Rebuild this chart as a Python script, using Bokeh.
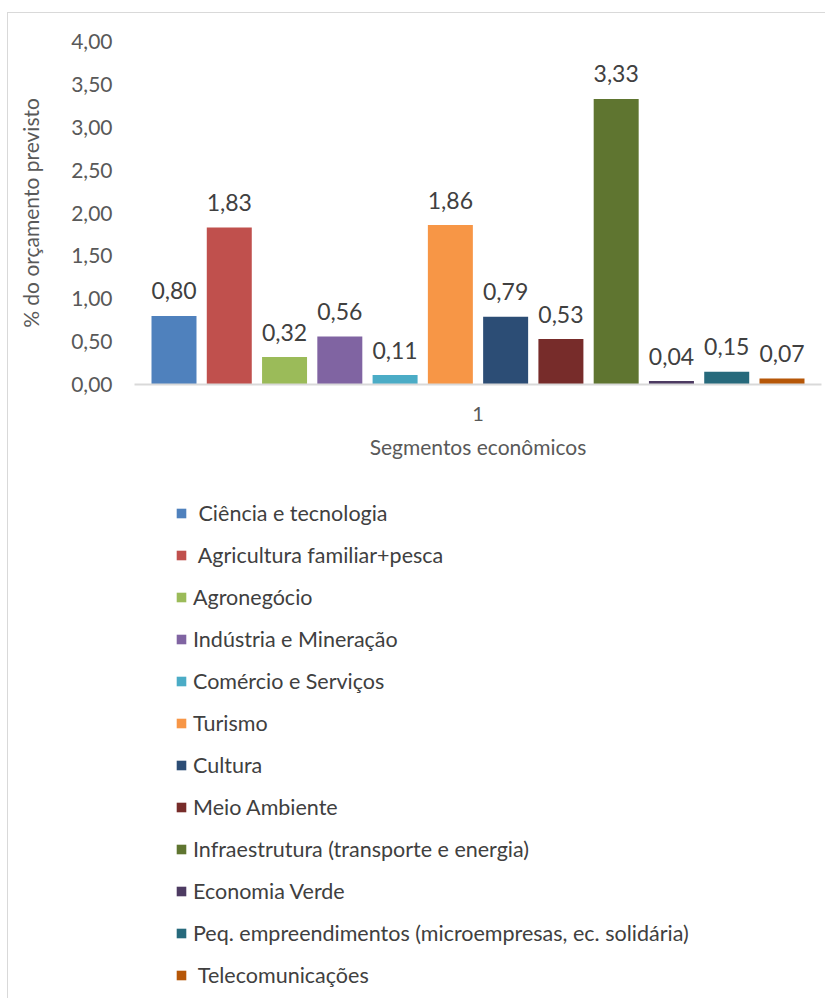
from bokeh.plotting import figure
from bokeh.layouts import column
from bokeh.models import ColumnDataSource, Range1d, FixedTicker, Legend, LegendItem
from bokeh.core.properties import value
from bokeh.embed import file_html
from bokeh.resources import INLINE

# ---- data ----
segments = [
    " Ciência e tecnologia",
    " Agricultura familiar+pesca",
    "Agronegócio",
    "Indústria e Mineração",
    "Comércio e Serviços",
    "Turismo",
    "Cultura",
    "Meio Ambiente",
    "Infraestrutura (transporte e energia)",
    "Economia Verde",
    "Peq. empreendimentos (microempresas, ec. solidária)",
    " Telecomunicações",
]
values = [0.80, 1.83, 0.32, 0.56, 0.11, 1.86, 0.79, 0.53, 3.33, 0.04, 0.15, 0.07]
colors = ["#4F81BD", "#C0504D", "#9BBB59", "#8064A2", "#4BACC6", "#F79646",
          "#2C4D75", "#772C2A", "#5F7530", "#4D3B62", "#276A7C", "#B65708"]
y_ticks = [0.0, 0.5, 1.0, 1.5, 2.0, 2.5, 3.0, 3.5, 4.0]
y_tick_labels = ["0,00", "0,50", "1,00", "1,50", "2,00", "2,50", "3,00", "3,50", "4,00"]
x_tick_label = "1"
x_title = "Segmentos econômicos"
y_title = "% do orçamento previsto"

FONT = "Lato"

src = ColumnDataSource(dict(
    x=list(range(len(values))),
    top=values,
    color=colors,
    label=[f"{v:.2f}".replace(".", ",") for v in values],
))

# ---- chart ----
p = figure(width=817, height=457,
           x_range=Range1d(-0.7147, 11.7147), y_range=Range1d(0, 4),
           output_backend="svg", toolbar_location=None,
           min_border_left=126, min_border_right=4,
           min_border_top=28, min_border_bottom=86)
p.outline_line_color = None
p.xgrid.grid_line_color = None
p.ygrid.grid_line_color = None

bars = p.vbar(x="x", top="top", width=0.814, color="color", line_color=None, source=src)
p.text(x="x", y="top", text="label", source=src,
       text_align="center", text_baseline="alphabetic", y_offset=-25,
       text_font=value(FONT), text_font_size="23px", text_color="#404040")

ya = p.yaxis[0]
ya.ticker = FixedTicker(ticks=y_ticks)
ya.major_label_overrides = {t: l for t, l in zip(y_ticks, y_tick_labels)}
ya.axis_line_color = None
ya.major_tick_line_color = None
ya.minor_tick_line_color = None
ya.major_label_standoff = 16
ya.major_label_text_font = FONT
ya.major_label_text_font_size = "21px"
ya.major_label_text_color = "#595959"
ya.axis_label = y_title
ya.axis_label_standoff = 25
ya.axis_label_text_font = FONT
ya.axis_label_text_font_size = "21px"
ya.axis_label_text_font_style = "normal"
ya.axis_label_text_color = "#595959"

xa = p.xaxis[0]
center = (p.x_range.start + p.x_range.end) / 2
xa.ticker = FixedTicker(ticks=[center])
xa.major_label_overrides = {center: x_tick_label}
xa.axis_line_color = "#d9d9d9"
xa.axis_line_width = 2
xa.major_tick_line_color = None
xa.minor_tick_line_color = None
xa.major_label_standoff = 16
xa.major_label_text_font = FONT
xa.major_label_text_font_size = "20px"
xa.major_label_text_color = "#595959"
xa.axis_label = x_title
xa.axis_label_standoff = 10
xa.axis_label_text_font = FONT
xa.axis_label_text_font_size = "21px"
xa.axis_label_text_font_style = "normal"
xa.axis_label_text_color = "#595959"

# ---- legend panel (same horizontal frame as the chart) ----
q = figure(width=817, height=528,
           x_range=Range1d(0, 1), y_range=Range1d(10, 11),
           output_backend="svg", toolbar_location=None,
           x_axis_location=None, y_axis_location=None,
           min_border_left=126, min_border_right=4,
           min_border_top=0, min_border_bottom=0)
q.outline_line_color = None
q.xgrid.grid_line_color = None
q.ygrid.grid_line_color = None
proxy = q.vbar(x="x", top="top", width=0.814, color="color", line_color=None, source=src)

items = [LegendItem(label=s, renderers=[proxy], index=i) for i, s in enumerate(segments)]
legend = Legend(items=items, location=(41, 10), orientation="vertical",
                glyph_width=12, glyph_height=12, label_standoff=6,
                label_height=26, spacing=16, padding=0, margin=0,
                border_line_color=None, background_fill_alpha=0,
                label_text_font=FONT, label_text_font_size="21.5px",
                label_text_color="#404040")
q.add_layout(legend, "center")

layout = column(p, q, spacing=0)
layout.margin = (12, 0, 0, 7)
layout.styles = {"border-top": "1px solid #d9d9d9", "border-left": "1px solid #d9d9d9"}

open("out.html", "w").write(file_html(layout, INLINE))
